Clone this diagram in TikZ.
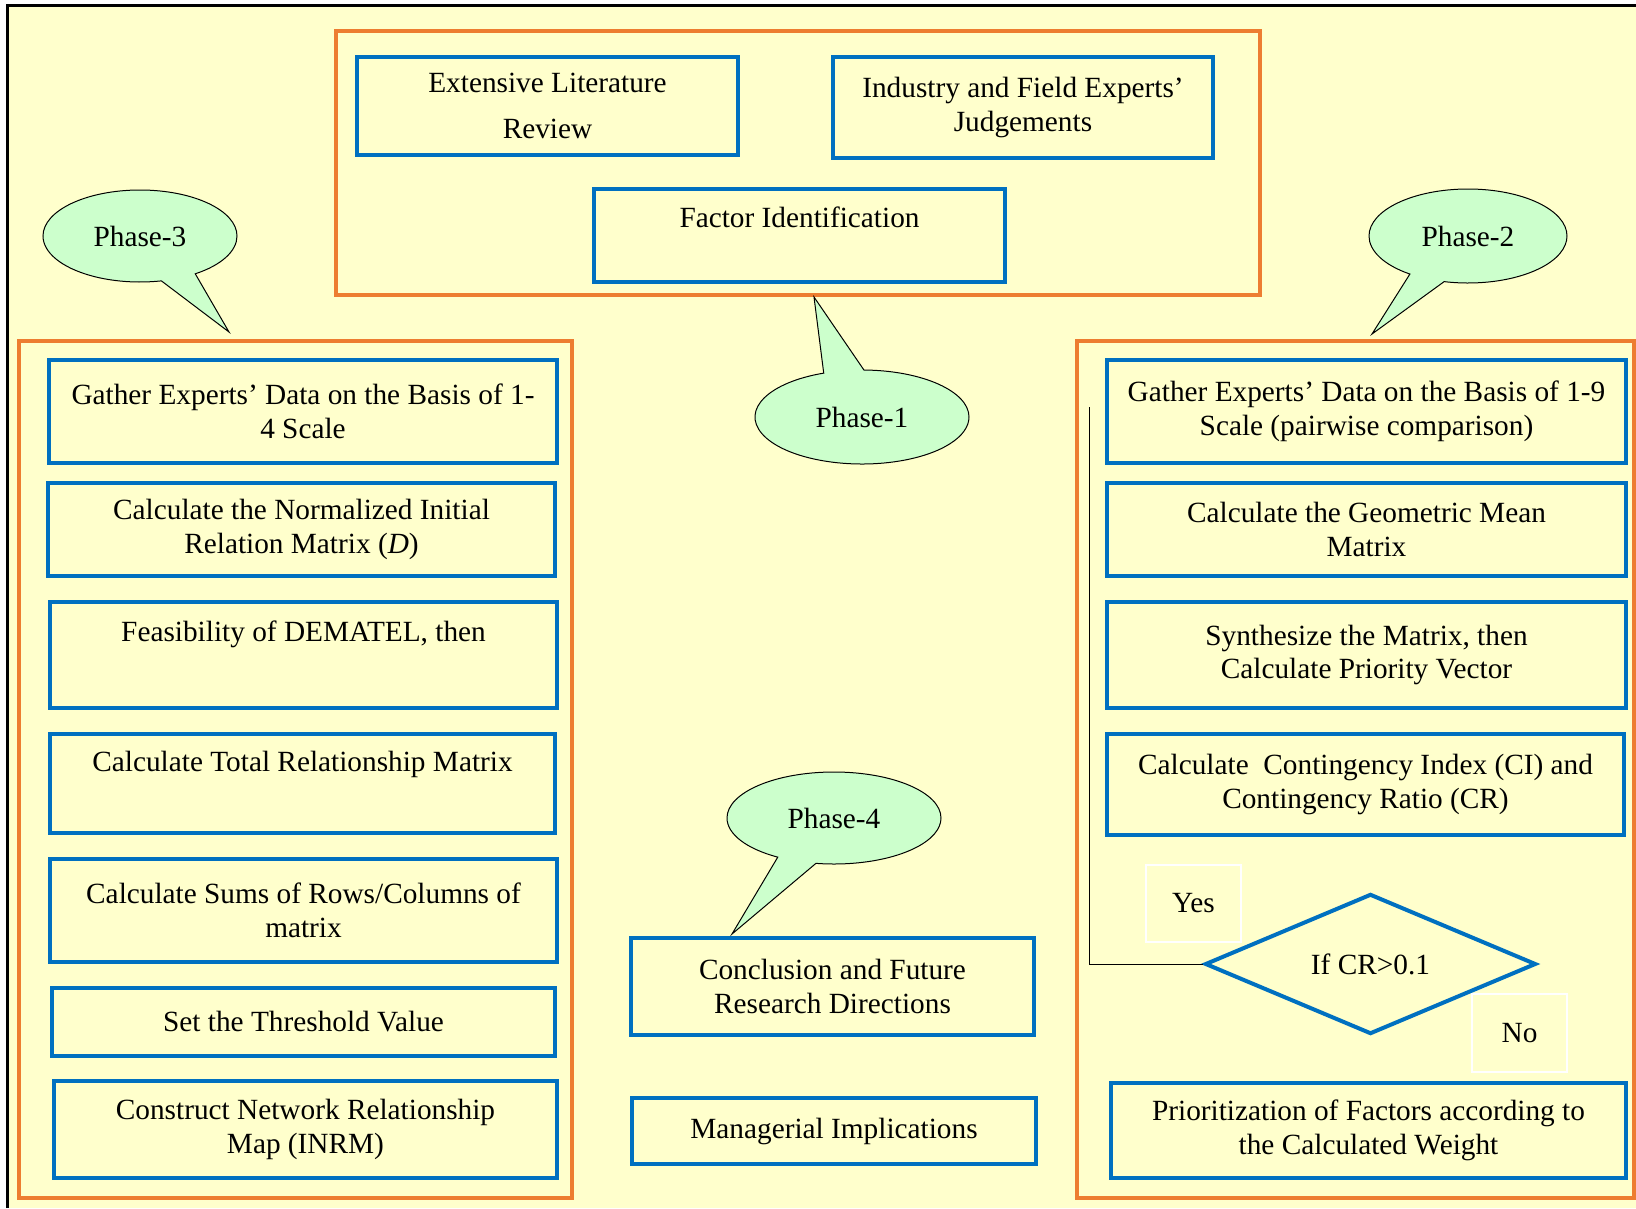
\documentclass[tikz,border=0pt]{standalone}
\usepackage{fontspec}
\setmainfont{Liberation Serif}
\usetikzlibrary{shapes.geometric,shapes.callouts}
\definecolor{bgyellow}{HTML}{FFFFCC}
\definecolor{frameorange}{HTML}{ED7D31}
\definecolor{boxblue}{HTML}{0070C0}
\definecolor{phasegreen}{HTML}{CCFFCC}

\begin{document}
\begin{tikzpicture}[x=1pt, y=-1pt,
    every node/.style={font=\fontsize{29.3}{33.5}\selectfont},
    frame/.style={rectangle, draw=frameorange, line width=4pt, inner sep=0pt},
    box/.style={rectangle, draw=boxblue, line width=4pt, align=center, inner sep=0pt},
    phase/.style={ellipse callout, draw=black, fill=phasegreen, line width=1pt, inner sep=0pt, callout pointer arc=22},
    tag/.style={rectangle, draw=white, line width=2pt, inner sep=0pt, minimum width=95pt}]
    \useasboundingbox (0,0) rectangle (1636,1208);
    \fill[bgyellow] (7.5,5.5) rectangle (1636,1208);
    \draw[line width=3pt] (7.5,1208) -- (7.5,5.5) -- (1636,5.5);
    % phase 1
    \node[frame, minimum width=924pt, minimum height=264pt] (top) at (798,163) {};
    \node[box, minimum width=381pt, minimum height=98pt] (litrev) at (547.5,106) {Extensive Literature\\[13pt]Review};
    \node[box, minimum width=380pt, minimum height=101pt] (experts) at (1023,107.5) {Industry and Field Experts'\\Judgements};
    \node[box, minimum width=411pt, minimum height=93pt] (factid) at (799.5,235.5) {Factor Identification\\[4pt]~};
    % phase 3
    \node[frame, minimum width=553pt, minimum height=857pt] (left) at (295.5,769.5) {};
    \node[box, minimum width=508pt, minimum height=103pt] (gather4) at (303,411.5) {Gather Experts' Data on the Basis of 1-\\4 Scale};
    \node[box, minimum width=507pt, minimum height=93pt] (normal) at (301.5,529.5) {Calculate the Normalized Initial\\Relation Matrix (\textit{D})};
    \node[box, minimum width=507pt, minimum height=106pt] (feasib) at (303.5,655) {Feasibility of DEMATEL, then\\[14pt]~};
    \node[box, minimum width=505pt, minimum height=99pt] (total) at (302.5,783.5) {Calculate Total Relationship Matrix\\[10pt]~};
    \node[box, minimum width=507pt, minimum height=103pt] (sums) at (303.5,910.5) {Calculate Sums of Rows/Columns of\\matrix};
    \node[box, minimum width=503pt, minimum height=68pt] (thresh) at (303.5,1022) {Set the Threshold Value};
    \node[box, minimum width=503pt, minimum height=97pt] (inrm) at (305.5,1129.5) {Construct Network Relationship\\Map (INRM)};
    % phase 2
    \node[frame, minimum width=557pt, minimum height=857pt] (right) at (1355.5,769.5) {};
    \node[box, minimum width=519pt, minimum height=103pt] (gather9) at (1366.5,411.5) {Gather Experts' Data on the Basis of 1-9\\Scale (pairwise comparison)};
    \node[box, minimum width=519pt, minimum height=93pt] (geomean) at (1366.5,529.5) {Calculate the Geometric Mean\\Matrix};
    \node[box, minimum width=519pt, minimum height=106pt] (priovec) at (1366.5,655) {Synthesize the Matrix, then\\Calculate Priority Vector};
    \node[box, minimum width=517pt, minimum height=101pt] (cicr) at (1365.5,784.5) {Calculate~ Contingency Index (CI) and\\Contingency Ratio (CR)};
    \node[diamond, draw=boxblue, line width=4pt, inner sep=0pt, minimum width=331pt, minimum height=138pt] (crtest) at (1370.5,964) {If CR>0.1};
    \node[tag, minimum height=77pt] (yes) at (1193.5,903.5) {Yes};
    \node[tag, minimum height=78pt] (no) at (1519.5,1033) {No};
    \node[box, minimum width=515pt, minimum height=95pt] (weight) at (1368.5,1130.5) {Prioritization of Factors according to\\the Calculated Weight};
    \coordinate (loop) at (1089,407);
    \draw[line width=1pt] (crtest.west) -| (loop);
    % phase 4
    \node[box, minimum width=403pt, minimum height=97pt] (concl) at (832.5,986.5) {Conclusion and Future\\Research Directions};
    \node[box, minimum width=404pt, minimum height=66pt] (manag) at (834,1131) {Managerial Implications};
    % callouts
    \node[phase, minimum width=214pt, minimum height=94pt, callout absolute pointer={([xshift=16pt]top.south)}] (ph1) at (862,417) {Phase-1};
    \node[phase, minimum width=198pt, minimum height=94pt, callout absolute pointer={([xshift=16.5pt,yshift=5pt]right.north)}] (ph2) at (1468,236) {Phase-2};
    \node[phase, minimum width=194pt, minimum height=92pt, callout absolute pointer={([xshift=-66.5pt,yshift=7pt]left.north)}] (ph3) at (140,236) {Phase-3};
    \node[phase, minimum width=214pt, minimum height=92pt, callout absolute pointer={([xshift=-100.5pt,yshift=2pt]concl.north)}] (ph4) at (834,818) {Phase-4};
\end{tikzpicture}
\end{document}
